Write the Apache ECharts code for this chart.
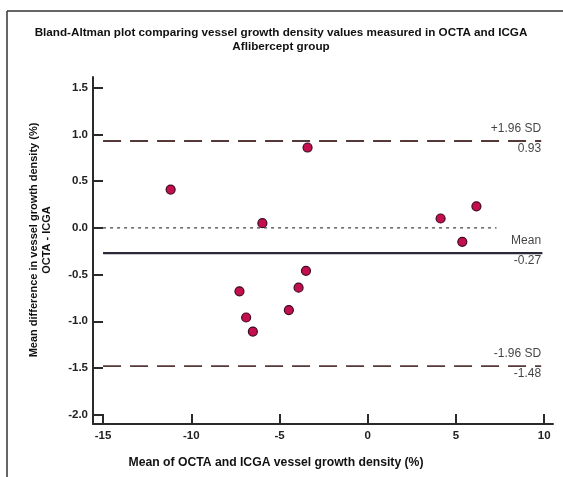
<!DOCTYPE html>
<html><head><meta charset="utf-8">
<script src="https://cdn.jsdelivr.net/npm/echarts@6/dist/echarts.min.js"></script>
<style>html,body{margin:0;padding:0;background:#fff}#c{width:563px;height:477px}</style>
</head><body><div id="c"></div>
<script>
// Data
const meanX = [-11.17, -5.97, -3.41, -7.27, -6.89, -6.51, -4.47, -3.92, -3.50, 4.13, 6.16, 5.36];
const diffY = [0.41, 0.05, 0.86, -0.68, -0.96, -1.11, -0.88, -0.64, -0.46, 0.10, 0.23, -0.15];
const xTicks = [-15, -10, -5, 0, 5, 10];
const yTicks = [-2.0, -1.5, -1.0, -0.5, 0.0, 0.5, 1.0, 1.5];
const refNames = ['+1.96 SD', 'Mean', '-1.96 SD'];
const refValues = [0.93, -0.27, -1.48];
const refStart = -15;
const refEnd = [9.83, 9.9, 9.83];
const zeroLine = [-15, 7.3];

const FONT = "'Liberation Sans', Arial, sans-serif";
const chart = echarts.init(document.getElementById('c'), null, {renderer: 'canvas'});

const points = meanX.map((x, i) => [x, diffY[i]]);
const series = [];

// zero dotted line
series.push({
  type: 'line', data: zeroLine.map(x => [x, 0]), symbol: 'none', silent: true,
  lineStyle: {color: '#444', width: 1.3, type: [3, 4]}, z: 1
});
// reference lines
refValues.forEach((v, i) => {
  const isMean = refNames[i] === 'Mean';
  series.push({
    type: 'line', data: [[refStart, v], [refEnd[i], v]], symbol: 'none', silent: true,
    lineStyle: isMean ? {color: '#2a2a38', width: 2.2} : {color: '#553838', width: 1.8, type: [18, 9]},
    z: 1
  });
});
// labels for reference lines
series.push({
  type: 'scatter', silent: true, symbolSize: 0.1,
  itemStyle: {color: 'rgba(0,0,0,0)'},
  data: refValues.map((v, i) => ({value: [9.83, v], name: refNames[i]})),
  label: {
    show: true, position: 'left', distance: 0, align: 'right',
    formatter: p => p.name + '\n' + p.value[1].toFixed(2),
    fontFamily: FONT, fontSize: 12, color: '#111', lineHeight: 20, offset: [0, -2]
  },
  z: 2
});
// points
series.push({
  type: 'scatter', data: points, symbolSize: 9,
  itemStyle: {color: '#c40f4c', borderColor: '#3e0a26', borderWidth: 1.2, opacity: 1},
  z: 5
});

chart.setOption({
  animation: false,
  backgroundColor: '#fff',
  grid: {left: 93, right: 10, top: 77, bottom: 53, containLabel: false},
  xAxis: {
    type: 'value', min: -15.57, max: 10.5,
    axisLine: {show: true, onZero: false, lineStyle: {color: '#2a2a2a', width: 2}},
    axisTick: {show: true, inside: true, length: 10, customValues: xTicks, lineStyle: {color: '#2a2a2a', width: 2}},
    axisLabel: {customValues: xTicks, fontFamily: FONT, fontSize: 11.5, fontWeight: 'bold', color: '#222', margin: 6},
    splitLine: {show: false}
  },
  yAxis: {
    type: 'value', min: -2.1, max: 1.615,
    axisLine: {show: true, onZero: false, lineStyle: {color: '#2a2a2a', width: 2}},
    axisTick: {show: true, inside: true, length: 10, customValues: yTicks, lineStyle: {color: '#2a2a2a', width: 2}},
    axisLabel: {customValues: yTicks, formatter: v => v.toFixed(1), fontFamily: FONT, fontSize: 11.5, fontWeight: 'bold', color: '#222', margin: 5},
    splitLine: {show: false}
  },
  graphic: [
    {type: 'line', shape: {x1: 7, y1: 11, x2: 563, y2: 11}, style: {stroke: '#333', lineWidth: 1.5}},
    {type: 'line', shape: {x1: 7, y1: 11, x2: 7, y2: 477}, style: {stroke: '#333', lineWidth: 1.5}},
    {type: 'text', x: 281, y: 40, style: {text: 'Bland-Altman plot comparing vessel growth density values measured in OCTA and ICGA\nAflibercept group', font: 'bold 11.7px ' + FONT, fill: '#111', textAlign: 'center', textVerticalAlign: 'middle', lineHeight: 13.5}},
    {type: 'text', x: 276, y: 463, style: {text: 'Mean of OCTA and ICGA vessel growth density (%)', font: 'bold 12.2px ' + FONT, fill: '#111', textAlign: 'center', textVerticalAlign: 'middle'}},
    {type: 'text', x: 40, y: 240, rotation: Math.PI / 2, style: {text: 'Mean difference in vessel growth density (%)\nOCTA - ICGA', font: 'bold 11px ' + FONT, fill: '#111', textAlign: 'center', textVerticalAlign: 'middle', lineHeight: 13}}
  ],
  series: series
});
</script>
</body></html>
